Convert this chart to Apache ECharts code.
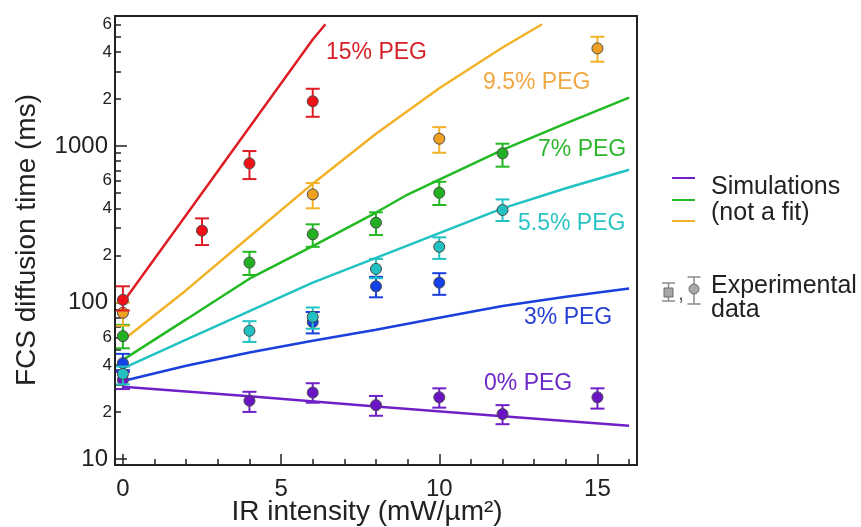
<!DOCTYPE html>
<html>
<head>
<meta charset="utf-8">
<script src="https://cdn.jsdelivr.net/npm/echarts@6/dist/echarts.min.js"></script>
<style>
  html, body { margin: 0; padding: 0; background: #fff; }
  #chart { width: 861px; height: 527px; }
</style>
</head>
<body>
<div id="chart"></div>
<script>
// ---- axis ticks ----
const xTickLabels = [0, 5, 10, 15];
const xMinorTicks = [1, 2, 3, 4, 6, 7, 8, 9, 11, 12, 13, 14, 16];
const yDecadeTicks = [10, 100, 1000];
const yMinorLabels = [20, 40, 60, 200, 400, 600, 2000, 4000, 6000];
const yMinorTicks = [20, 30, 40, 50, 60, 70, 80, 90,
                     200, 300, 400, 500, 600, 700, 800, 900,
                     2000, 3000, 4000, 5000, 6000];
const X_MIN = -0.25, X_MAX = 16.25;
const Y_MIN = 9.16, Y_MAX = 6776;

// ---- simulated diffusion time curves: [IR intensity, ms] ----
const sim0 = [[0, 29], [4, 25.2], [8, 21.7], [12, 18.8], [16, 16.3]];
const sim3 = [[0, 31.5], [2, 39.5], [4, 48], [6, 57], [8, 67], [10, 80], [12, 95], [14, 109], [16, 123]];
const sim55 = [[0, 38], [2, 58], [4, 88], [6, 134], [8, 193], [10, 278], [12, 400], [14, 537], [16, 705]];
const sim7 = [[0, 43], [2, 78], [4, 142], [6, 229], [8, 376], [9, 490], [10, 610], [12, 944], [14, 1396], [16, 2040]];
const sim95 = [[0, 57.5], [2, 120], [4, 263], [6, 575], [8, 1200], [10, 2340], [12, 4260], [13.25, 6000]];
const sim15 = [[0, 100], [2, 363], [4, 1320], [6, 4790], [6.4, 6000]];

// ---- measured FCS times: [IR intensity, mean, low, high] ----
const exp0 = [[0, 32, 28, 36], [4, 23.6, 20, 26.9], [6, 26.6, 22.9, 30.5], [8, 22.1, 18.9, 25.3],
              [10, 24.8, 21.3, 28.3], [12, 19.4, 16.7, 22.1], [15, 24.8, 21, 28.3]];
const exp3 = [[0, 41, 37, 47], [6, 75, 63.5, 87], [8, 127, 108, 146], [10, 134, 112, 154]];
const exp55 = [[0, 35, 30, 39], [4, 66, 56, 76], [6, 81, 68, 93], [8, 164, 143, 190],
               [10, 227, 190, 261], [12, 390, 332, 456]];
const exp7 = [[0, 61, 51, 72], [4, 180, 150, 211], [6, 273, 227, 316], [8, 324, 270, 377],
              [10, 503, 420, 591], [12, 898, 738, 1035]];
const exp95 = [[0, 86, 71, 100], [6, 491, 400, 580], [10, 1114, 906, 1321], [15, 4207, 3459, 4990]];
const exp15 = [[0, 104, 89, 127], [2.5, 288, 233, 345], [4, 775, 615, 929], [6, 1932, 1538, 2323]];

const groups = [
  { name: '0% PEG',   sim: sim0,  exp: exp0,  line: '#7020c8', fill: '#6a14c4', text: '#6c28c8' },
  { name: '3% PEG',   sim: sim3,  exp: exp3,  line: '#1a3fdc', fill: '#1440e8', text: '#2440d4' },
  { name: '5.5% PEG', sim: sim55, exp: exp55, line: '#21c2c2', fill: '#22c0c0', text: '#2ac4c4' },
  { name: '7% PEG',   sim: sim7,  exp: exp7,  line: '#22b922', fill: '#22b022', text: '#2eb62e' },
  { name: '9.5% PEG', sim: sim95, exp: exp95, line: '#f2b228', fill: '#f0a020', text: '#f0a844' },
  { name: '15% PEG',  sim: sim15, exp: exp15, line: '#dd1c24', fill: '#f01018', text: '#d42026' }
];

const FONT = 'Liberation Sans, Arial, sans-serif';
const INK = '#222';

function errorBars(color) {
  return function (params, api) {
    const x = api.value(0);
    const lo = api.coord([x, api.value(2)]);
    const hi = api.coord([x, api.value(3)]);
    const half = 7;
    const style = { stroke: color, lineWidth: 2, fill: null };
    return {
      type: 'group',
      children: [
        { type: 'line', shape: { x1: lo[0], y1: lo[1], x2: hi[0], y2: hi[1] }, style: style },
        { type: 'line', shape: { x1: lo[0] - half, y1: lo[1], x2: lo[0] + half, y2: lo[1] }, style: style },
        { type: 'line', shape: { x1: hi[0] - half, y1: hi[1], x2: hi[0] + half, y2: hi[1] }, style: style }
      ]
    };
  };
}

const series = [];
groups.forEach(function (g) {
  series.push({
    type: 'line', data: g.sim, xAxisIndex: 0, yAxisIndex: 0,
    showSymbol: false, smooth: false, clip: true, z: 2,
    lineStyle: { color: g.line, width: 2.5 }
  });
});
groups.forEach(function (g, i) {
  series.push({
    type: 'custom', data: g.exp, xAxisIndex: 0, yAxisIndex: 0,
    encode: { x: 0, y: [2, 3] }, z: 3 + i * 2,
    renderItem: errorBars(g.line)
  });
  series.push({
    type: 'scatter', data: g.exp.map(function (d) { return [d[0], d[1]]; }),
    xAxisIndex: 0, yAxisIndex: 0, symbol: 'circle', symbolSize: 11, z: 4 + i * 2,
    itemStyle: { color: g.fill, borderColor: '#4a4a4a', borderWidth: 1, opacity: 1 }
  });
});

const logMin = Math.log10(Y_MIN), logMax = Math.log10(Y_MAX);
const lg = function (arr) { return arr.map(Math.log10); };

// in-plot curve labels
const curveLabels = [
  { text: '15% PEG',  x: 326, y: 54,  g: 5 },
  { text: '9.5% PEG', x: 483, y: 84,  g: 4 },
  { text: '7% PEG',   x: 538, y: 151, g: 3 },
  { text: '5.5% PEG', x: 518, y: 225, g: 2 },
  { text: '3% PEG',   x: 524, y: 319, g: 1 },
  { text: '0% PEG',   x: 484, y: 385, g: 0 }
];

const graphics = [];
curveLabels.forEach(function (c) {
  graphics.push({
    type: 'text', left: c.x, top: c.y - 13,
    style: { text: c.text, fill: groups[c.g].text, font: '23px ' + FONT }
  });
});
// axis titles
graphics.push({
  type: 'text', x: 27, y: 240, rotation: Math.PI / 2,
  style: { text: 'FCS diffusion time (ms)', fill: INK, font: '28px ' + FONT,
           textAlign: 'center', textVerticalAlign: 'middle' }
});
graphics.push({
  type: 'text', x: 367, y: 512,
  style: { text: 'IR intensity (mW/\u00b5m\u00b2)', fill: INK, font: '28px ' + FONT,
           textAlign: 'center', textVerticalAlign: 'middle' }
});
// legend: simulation swatches
[['#7020c8', 178], ['#22b922', 200], ['#f2b228', 221]].forEach(function (s) {
  graphics.push({ type: 'line', shape: { x1: 672, y1: s[1], x2: 695, y2: s[1] },
                  style: { stroke: s[0], lineWidth: 2 } });
});
graphics.push({ type: 'text', left: 711, top: 174,
  style: { text: 'Simulations\n(not a fit)', fill: INK, font: '25px ' + FONT, lineHeight: 26 } });
// legend: experimental symbols
const gray = '#8c8c8c';
[[668.5, 283, 301], [694, 277, 304]].forEach(function (b) {
  graphics.push({ type: 'line', shape: { x1: b[0], y1: b[1], x2: b[0], y2: b[2] }, style: { stroke: gray, lineWidth: 1.5 } });
  graphics.push({ type: 'line', shape: { x1: b[0] - 6.5, y1: b[1], x2: b[0] + 6.5, y2: b[1] }, style: { stroke: gray, lineWidth: 1.5 } });
  graphics.push({ type: 'line', shape: { x1: b[0] - 6.5, y1: b[2], x2: b[0] + 6.5, y2: b[2] }, style: { stroke: gray, lineWidth: 1.5 } });
});
graphics.push({ type: 'rect', shape: { x: 664, y: 288, width: 9, height: 9 },
  style: { fill: '#a8a8a8', stroke: '#6a6a6a', lineWidth: 1 } });
graphics.push({ type: 'circle', shape: { cx: 694, cy: 289, r: 5 },
  style: { fill: '#a8a8a8', stroke: '#6a6a6a', lineWidth: 1 } });
graphics.push({ type: 'text', left: 678, top: 283,
  style: { text: ',', fill: '#666', font: '22px ' + FONT } });
graphics.push({ type: 'text', left: 711, top: 274,
  style: { text: 'Experimental\ndata', fill: INK, font: '25px ' + FONT, lineHeight: 24 } });

const option = {
  backgroundColor: '#fff',
  animation: false,
  grid: { left: 115, right: 224, top: 16, bottom: 62, show: true,
          borderColor: INK, borderWidth: 2, backgroundColor: 'transparent' },
  xAxis: [
    { type: 'value', min: X_MIN, max: X_MAX, splitLine: { show: false },
      axisLine: { show: true, onZero: false, lineStyle: { color: INK, width: 2 } },
      axisTick: { show: true, inside: true, length: 11, customValues: xTickLabels,
                  lineStyle: { color: INK, width: 1.5 } },
      axisLabel: { show: true, customValues: xTickLabels, margin: 12, color: INK,
                   fontSize: 24, fontFamily: FONT } },
    { type: 'value', min: X_MIN, max: X_MAX, position: 'bottom', splitLine: { show: false },
      axisLine: { show: false, onZero: false },
      axisTick: { show: true, inside: true, length: 6, customValues: xMinorTicks,
                  lineStyle: { color: INK, width: 1.5 } },
      axisLabel: { show: false } }
  ],
  yAxis: [
    { type: 'log', logBase: 10, min: Y_MIN, max: Y_MAX, splitLine: { show: false },
      axisLine: { show: false, onZero: false }, axisTick: { show: false }, axisLabel: { show: false } },
    { type: 'value', min: logMin, max: logMax, position: 'left', splitLine: { show: false },
      axisLine: { show: true, onZero: false, lineStyle: { color: INK, width: 2 } },
      axisTick: { show: true, inside: true, length: 12, customValues: lg(yDecadeTicks),
                  lineStyle: { color: INK, width: 1.5 } },
      axisLabel: { show: true, customValues: lg(yDecadeTicks), margin: 7, color: INK,
                   fontSize: 24, fontFamily: FONT,
                   formatter: function (v) { return String(Math.round(Math.pow(10, v))); } } },
    { type: 'value', min: logMin, max: logMax, position: 'left', splitLine: { show: false },
      axisLine: { show: false, onZero: false },
      axisTick: { show: true, inside: true, length: 6, customValues: lg(yMinorTicks),
                  lineStyle: { color: INK, width: 1.5 } },
      axisLabel: { show: true, customValues: lg(yMinorLabels), margin: 3, color: INK,
                   fontSize: 17, fontFamily: FONT,
                   formatter: function (v) { return String(Math.round(Math.pow(10, v))).charAt(0); } } }
  ],
  series: series,
  graphic: graphics
};

const chart = echarts.init(document.getElementById('chart'), null, { renderer: 'canvas' });
chart.setOption(option);
</script>
</body>
</html>
